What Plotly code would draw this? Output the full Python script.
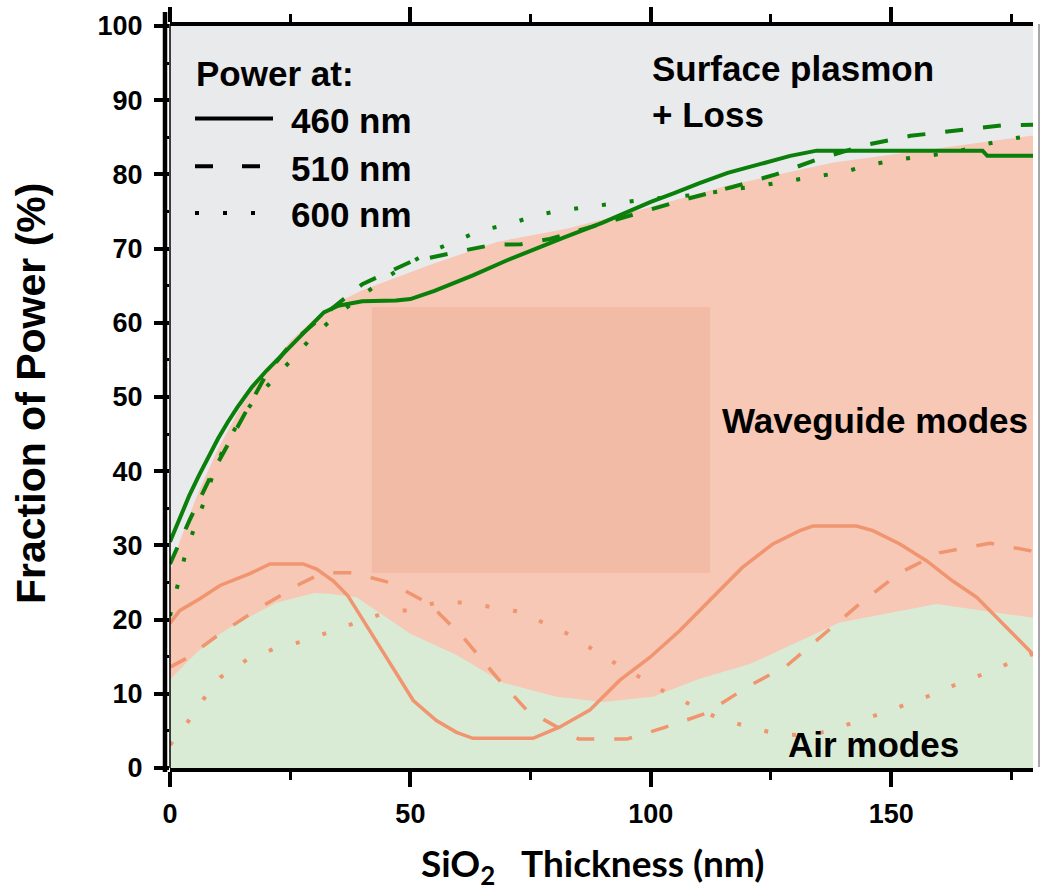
import plotly.graph_objects as go

# ---------------- data ----------------
# Boundaries of the shaded regions
air_region_x = [0, 4, 8.3, 13.1, 22.2, 30.1, 33.3, 38.8, 50, 59.7, 69.3, 80.4, 90, 100.5, 110, 120.6, 139.3, 159.4, 180]
air_region_y = [11.9, 14.6, 17.2, 19.2, 22.3, 23.6, 23.5, 23.0, 18.1, 15.2, 11.5, 9.6, 8.9, 9.6, 12.0, 14.0, 19.6, 22.1, 20.2]

wg_region_x = [0, 2, 4, 6, 10, 15, 20, 25, 30, 35, 40, 54, 68, 82, 96, 116, 138, 180]
wg_region_y = [26.5, 30.5, 34.0, 37.3, 43.0, 49.0, 53.5, 57.5, 60.5, 62.8, 64.4, 67.8, 70.9, 72.6, 74.9, 78.5, 81.6, 85.3]

# Surface plasmon + loss (green lines)
sp460_x = [0, 2, 4, 6, 8, 10, 12, 14, 17, 20, 25, 28, 32, 35, 40, 47, 50, 55, 63, 70, 76, 82, 90, 100, 105, 110, 116, 122, 129, 134.5, 169, 170, 180]
sp460_y = [30.5, 33.7, 36.7, 39.4, 42.0, 44.4, 46.6, 48.6, 51.3, 53.5, 56.8, 58.8, 61.4, 62.3, 62.9, 63.0, 63.2, 64.3, 66.4, 68.4, 70.0, 71.5, 73.5, 76.3, 77.5, 78.8, 80.2, 81.3, 82.5, 83.2, 83.2, 82.5, 82.5]

sp510_x = [0, 4, 9, 14, 20, 25.6, 34, 40, 50, 60, 67, 73, 79, 88, 98, 107.5, 117, 126, 135, 145, 154, 164, 173, 180]
sp510_y = [27.5, 33.3, 40.0, 45.8, 53.0, 57.5, 62.1, 65.2, 68.2, 69.6, 70.5, 70.6, 71.3, 73.0, 74.9, 76.7, 78.3, 80.0, 82.1, 84.0, 85.2, 85.9, 86.6, 86.7]

sp600_x = [0, 3, 5, 7, 9, 11.3, 14.5, 17.5, 21.7, 25.5, 29.6, 34.6, 39, 43.7, 49, 54, 59.6, 65, 70.6, 76.2, 82, 87.9, 93.9, 99.8, 105.5, 111.3, 117, 123, 128.5, 134, 140, 145.7, 151.6, 157.4, 163.2, 169, 175, 180]
sp600_y = [20.5, 28.3, 32.3, 35.7, 39.7, 43.3, 46.8, 49.6, 52.5, 55.2, 58.1, 61.0, 63.2, 65.5, 67.8, 69.5, 71.1, 72.5, 73.3, 74.5, 75.2, 75.7, 76.2, 76.7, 77.0, 77.4, 78.0, 78.5, 79.1, 79.7, 80.3, 81.3, 82.0, 82.5, 83.0, 84.0, 84.8, 85.3]

# Air modes (orange lines)
air460_x = [0, 2, 6.2, 10.4, 16.6, 20.8, 27.7, 30.5, 34, 37, 40.2, 43.7, 47.2, 50.6, 55.4, 59.6, 63, 75.5, 81, 87.3, 93.5, 99.8, 106, 112.9, 119, 125.4, 131, 133.7, 142.8, 146.2, 151.8, 157.4, 162.8, 167.8, 174, 178.8, 180]
air460_y = [19.5, 21.2, 22.8, 24.6, 26.2, 27.5, 27.5, 26.8, 25.2, 23.2, 19.9, 16.2, 12.7, 9.1, 6.4, 4.8, 4.0, 4.0, 5.5, 7.8, 11.8, 14.9, 18.5, 23.1, 27.0, 30.2, 32.0, 32.6, 32.6, 32.0, 30.2, 27.9, 25.2, 23.0, 19.0, 15.8, 15.0]

air510_x = [0, 3.5, 10.4, 18.7, 27, 30.5, 33, 38, 45.7, 54, 61, 68, 74.2, 81.8, 85, 95, 102.6, 111.6, 120, 128.3, 135.1, 143.4, 151.8, 160, 170.5, 178.8, 180]
air510_y = [13.6, 14.8, 18.1, 21.6, 24.8, 25.9, 26.3, 26.3, 25.0, 22.1, 17.6, 12.2, 7.8, 5.0, 3.9, 3.9, 5.4, 7.4, 10.9, 13.8, 17.6, 22.1, 26.3, 29.0, 30.3, 29.3, 29.0]

air600_x = [0, 3.7, 7.1, 10.4, 16, 21.4, 27.2, 32.6, 38, 43.7, 49.5, 55.4, 61.3, 67.2, 72.3, 78, 83, 87.9, 92.9, 98.1, 103.1, 108.4, 113.7, 120, 125.6, 131, 136.7, 142.4, 148.2, 153.2, 159, 164, 169.8, 174.8, 180]
air600_y = [3.1, 6.2, 9.4, 12.2, 14.6, 16.0, 17.0, 18.2, 19.4, 20.7, 21.3, 22.3, 22.3, 21.7, 21.1, 19.5, 18.0, 16.0, 14.0, 12.1, 10.2, 8.5, 6.8, 5.6, 4.7, 4.4, 4.9, 6.2, 7.4, 8.6, 10.0, 11.4, 12.8, 14.2, 15.5]

# highlighted box (data units)
box_x = [42, 112.3]
box_y = [26.3, 62.1]

x_ticks = [0, 50, 100, 150]
y_ticks = [0, 10, 20, 30, 40, 50, 60, 70, 80, 90, 100]
legend_labels = ["460 nm", "510 nm", "600 nm"]

# ---------------- styling ----------------
W, H = 1040, 894
ML, MR, MT, MB = 170, 7, 22, 126
PW, PH = W - ML - MR, H - MT - MB

GRAY_BG = "#E9EAEC"
ORANGE_FILL = "#F6C8B5"
GREEN_FILL = "#DAEBD5"
GREEN_LINE = "#0A7F0A"
ORANGE_LINE = "#F0956F"
FONT = "Liberation Sans, Arial, sans-serif"

DASH = "18px,20px"
DOT = "4px,24px"


def px_x(p):
    return (p - ML) / PW


def px_y(p):
    return (H - MB - p) / PH


fig = go.Figure()

# shaded regions
fig.add_trace(go.Scatter(x=wg_region_x, y=wg_region_y, mode="lines", line=dict(width=0),
                         fill="tozeroy", fillcolor=ORANGE_FILL, hoverinfo="skip", showlegend=False))
fig.add_trace(go.Scatter(x=air_region_x, y=air_region_y, mode="lines", line=dict(width=0),
                         fill="tozeroy", fillcolor=GREEN_FILL, hoverinfo="skip", showlegend=False))

# highlight box drawn under the lines
fig.add_trace(go.Scatter(x=[box_x[0], box_x[1], box_x[1], box_x[0], box_x[0]],
                         y=[box_y[0], box_y[0], box_y[1], box_y[1], box_y[0]],
                         mode="lines", line=dict(width=0), fill="toself",
                         fillcolor="rgba(226,139,115,0.22)", hoverinfo="skip", showlegend=False))

# air-mode lines
fig.add_trace(go.Scatter(x=air460_x, y=air460_y, mode="lines", line=dict(color=ORANGE_LINE, width=3.5),
                         showlegend=False))
fig.add_trace(go.Scatter(x=air510_x, y=air510_y, mode="lines",
                         line=dict(color=ORANGE_LINE, width=3.5, dash=DASH), showlegend=False))
fig.add_trace(go.Scatter(x=air600_x, y=air600_y, mode="lines",
                         line=dict(color=ORANGE_LINE, width=4, dash=DOT), showlegend=False))

# surface plasmon lines
fig.add_trace(go.Scatter(x=sp460_x, y=sp460_y, mode="lines", line=dict(color=GREEN_LINE, width=4),
                         showlegend=False))
fig.add_trace(go.Scatter(x=sp510_x, y=sp510_y, mode="lines",
                         line=dict(color=GREEN_LINE, width=4, dash=DASH), showlegend=False))
fig.add_trace(go.Scatter(x=sp600_x, y=sp600_y, mode="lines",
                         line=dict(color=GREEN_LINE, width=4, dash=DOT), showlegend=False))

tick_font = dict(family=FONT, size=27, color="black", weight=700)
fig.update_layout(
    width=W, height=H,
    margin=dict(l=ML, r=MR, t=MT, b=MB),
    paper_bgcolor="white",
    plot_bgcolor=GRAY_BG,
    xaxis=dict(range=[0, 179.5], tickvals=x_ticks, ticks="outside", ticklen=15, tickwidth=4,
               tickcolor="black", showline=True, linewidth=4, linecolor="black", mirror="allticks",
               showgrid=False, zeroline=False, tickfont=tick_font, ticklabelstandoff=4,
               minor=dict(tickvals=[25, 75, 125, 175], ticks="outside", ticklen=8, tickwidth=3,
                          tickcolor="black", showgrid=False)),
    yaxis=dict(range=[0, 100], tickvals=y_ticks, ticks="outside", ticklen=15, tickwidth=4,
               tickcolor="black", showline=False, showgrid=False, zeroline=False,
               tickfont=tick_font, ticklabelstandoff=6,
               minor=dict(dtick=5, ticks="outside", ticklen=6, tickwidth=3,
                          tickcolor="black", showgrid=False)),
)

shapes = []
# thick left axis line (offset) and thin inner line
shapes.append(dict(type="line", xref="paper", yref="paper", x0=px_x(165), x1=px_x(165),
                   y0=px_y(8), y1=px_y(772), line=dict(color="black", width=4.5), layer="above"))
shapes.append(dict(type="line", xref="paper", yref="paper", x0=px_x(170), x1=px_x(170),
                   y0=px_y(20), y1=px_y(768), line=dict(color="black", width=1.5), layer="above"))
# thin gray right border
shapes.append(dict(type="line", xref="paper", yref="paper", x0=px_x(1039), x1=px_x(1039),
                   y0=px_y(20), y1=px_y(767), line=dict(color="#8a8a8a", width=1.5), layer="above"))

# legend samples (black)
leg_y = [115, 163, 210]
leg_dash = ["solid", "18px,29px", "4px,24px"]
for yy, dd in zip(leg_y, leg_dash):
    shapes.append(dict(type="line", xref="paper", yref="paper", x0=px_x(195), x1=px_x(273 if dd == "solid" else 262),
                       y0=px_y(yy), y1=px_y(yy), line=dict(color="black", width=4, dash=dd), layer="above"))
fig.update_layout(shapes=shapes)

ann_font = dict(family=FONT, size=35, color="black", weight=700)
anns = [
    dict(text="Power at:", x=px_x(194), y=px_y(70), xanchor="left", yanchor="middle"),
    dict(text="Surface plasmon<br>+ Loss", x=px_x(650), y=px_y(88), xanchor="left", yanchor="middle",
         align="left"),
    dict(text="Waveguide modes", x=px_x(1030), y=px_y(419), xanchor="right", yanchor="middle"),
    dict(text="Air modes", x=px_x(961), y=px_y(744), xanchor="right", yanchor="middle"),
]
for lab, yy in zip(legend_labels, leg_y):
    anns.append(dict(text=lab, x=px_x(289), y=px_y(yy + 2), xanchor="left", yanchor="middle"))

for a in anns:
    a.update(xref="paper", yref="paper", showarrow=False, font=ann_font)

# axis titles
anns.append(dict(text="Fraction of Power (%)", textangle=-90, x=px_x(31), y=px_y(392),
                 xref="paper", yref="paper", xanchor="center", yanchor="middle", showarrow=False,
                 font=dict(family=FONT, size=41, color="black", weight=700)))
anns.append(dict(text="SiO<sub>2</sub>\u00a0\u00a0\u00a0Thickness (nm)", x=px_x(592), y=px_y(866),
                 xref="paper", yref="paper", xanchor="center", yanchor="middle", showarrow=False,
                 font=dict(family="Lato, Liberation Sans, sans-serif", size=37, color="black", weight=700)))
fig.update_layout(annotations=anns)

fig.write_html("out.html")
